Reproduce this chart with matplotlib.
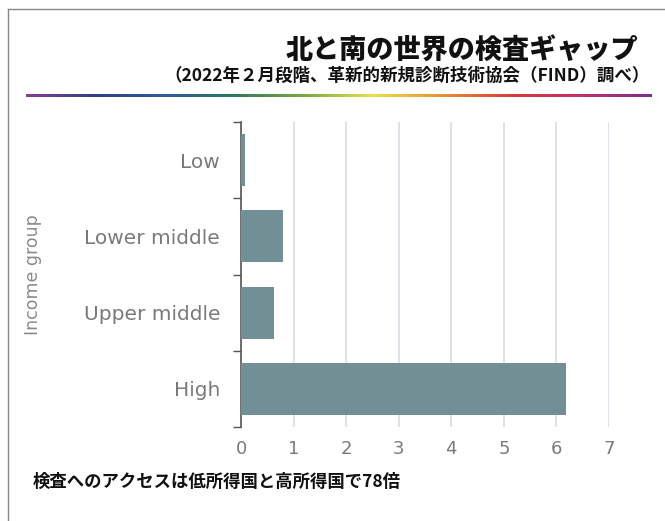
import matplotlib
matplotlib.use("Agg")
import matplotlib.pyplot as plt
import numpy as np
from matplotlib.colors import LinearSegmentedColormap

plt.rcParams['font.family'] = ['Noto Sans CJK JP', 'DejaVu Sans']

categories = ["Low", "Lower middle", "Upper middle", "High"]
values = [0.079, 0.80, 0.63, 6.18]
xticks = [0, 1, 2, 3, 4, 5, 6, 7]
title = "北と南の世界の検査ギャップ"
subtitle = "（2022年２月段階、革新的新規診断技術協会（FIND）調べ）"
footer = "検査へのアクセスは低所得国と高所得国で78倍"
ylabel = "Income group"

W, H = 665, 521
fig = plt.figure(figsize=(W / 100, H / 100), dpi=100)

def fx(px):
    return px / W

def fy(py):
    return 1 - py / H

# frame lines (top and left)
fig.add_artist(plt.Line2D([fx(8), 1], [fy(9), fy(9)], color="#888888", lw=1.0))
fig.add_artist(plt.Line2D([fx(8), fx(8)], [fy(9), 0], color="#888888", lw=1.0))

# titles
fig.text(fx(638), fy(50), title, ha="right", va="center", fontsize=19.5,
         fontweight="black", color="#111111")
fig.text(fx(650), fy(76), subtitle, ha="right", va="center", fontsize=12.6,
         fontweight="bold", color="#111111")

# gradient rule
grad_colors = ["#8a3c96", "#2d3f8a", "#2d5da0", "#2e7a5a", "#7aaa40",
               "#e8e050", "#e89030", "#d83a3a", "#c03070", "#7a3090"]
cmap = LinearSegmentedColormap.from_list("rule", grad_colors)
gax = fig.add_axes([fx(26), fy(97), fx(652) - fx(26), fy(94) - fy(97)])
gax.imshow(np.linspace(0, 1, 512)[None, :], aspect="auto", cmap=cmap)
gax.axis("off")

# main chart
ax = fig.add_axes([fx(241), fy(427), fx(609) - fx(241), fy(122) - fy(427)])
ypos = np.arange(len(categories))
ax.barh(ypos, values, height=0.68, color="#728f96", zorder=3)
ax.set_xlim(0, 7)
ax.set_ylim(len(categories) - 0.5, -0.5)
ax.set_xticks(xticks)
ax.set_xticklabels([str(t) for t in xticks], fontsize=13, color="#7a7a7a",
                   family=["DejaVu Sans"])
ax.set_yticks(ypos)
ax.set_yticklabels(categories, fontsize=14.5, color="#7a7a7a",
                   family=["DejaVu Sans"])
ax.set_yticks(np.arange(-0.5, len(categories), 1), minor=True)
ax.tick_params(axis="y", which="major", length=0, pad=15)
ax.tick_params(axis="y", which="minor", length=6, color="#555555", width=1)
ax.tick_params(axis="x", length=0, pad=9)
ax.grid(axis="x", color="#d5dbe6", lw=1.2, zorder=0)
for s in ["top", "right", "bottom"]:
    ax.spines[s].set_visible(False)
ax.spines["left"].set_color("#555555")
ax.spines["left"].set_linewidth(1.2)
ax.set_ylabel(ylabel, fontsize=12.5, color="#8a8a8a",
              family=["DejaVu Sans"])
ax.yaxis.set_label_coords((42 - 241) / (609 - 241), 0.5)
ax.set_facecolor("none")

fig.text(fx(33), fy(482), footer, ha="left", va="center", fontsize=12.5,
         fontweight="bold", color="#111111")

fig.savefig("out.png", dpi=100, facecolor="white")
